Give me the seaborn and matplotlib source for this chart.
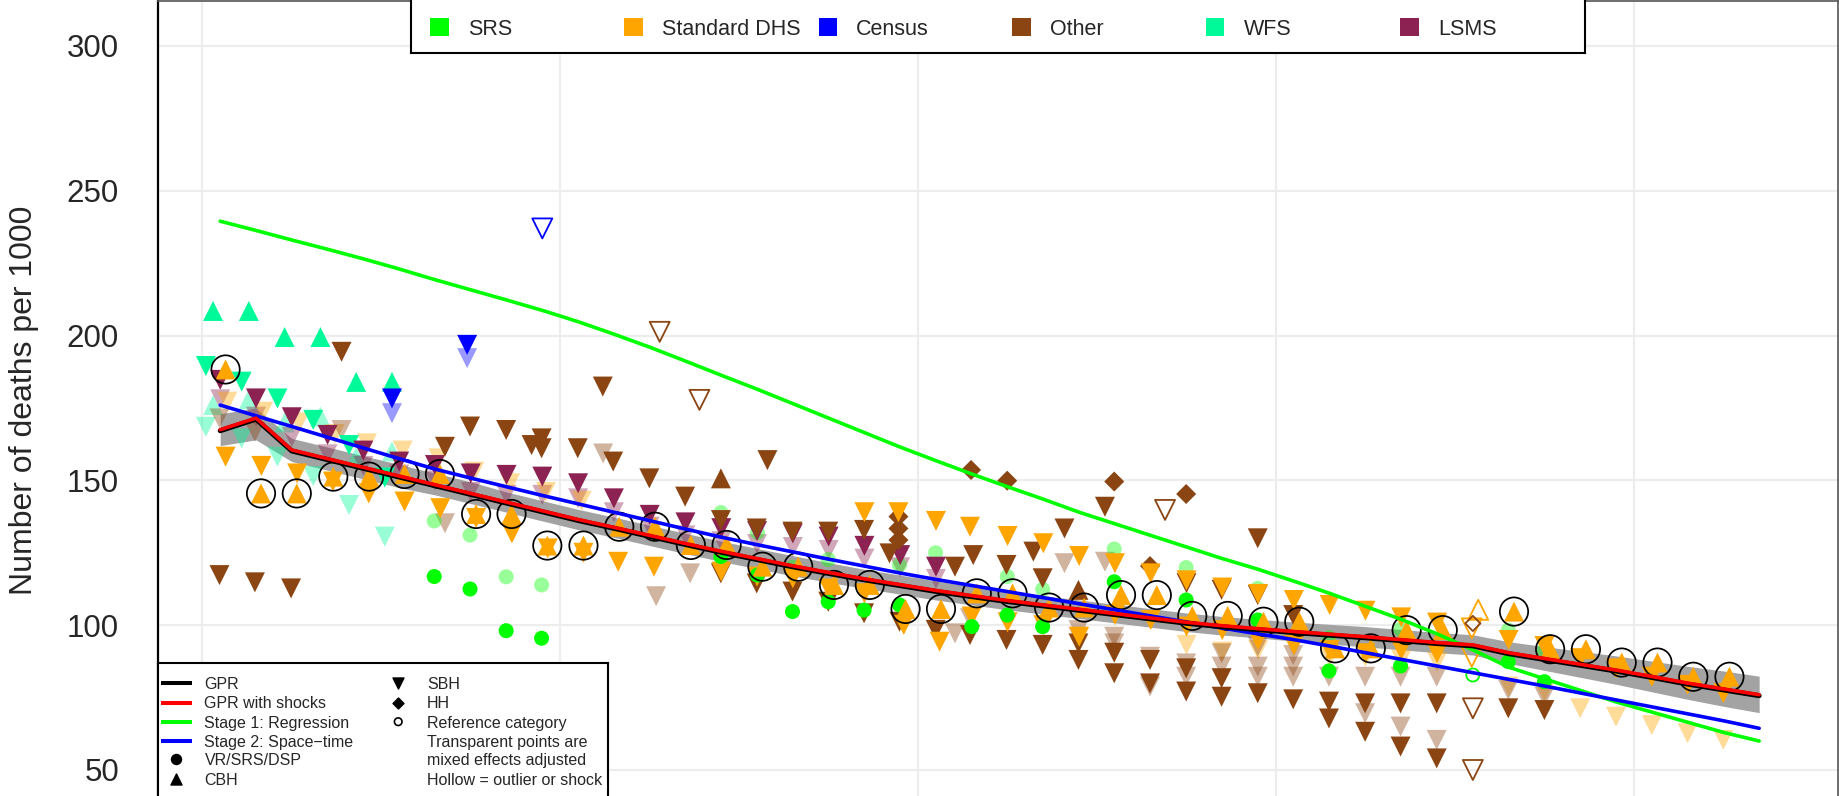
import numpy as np
import matplotlib
matplotlib.use("Agg")
import matplotlib.pyplot as plt
import matplotlib.transforms as mtrans
import seaborn as sns

# -------------------------------
# 1. Model estimates (mid-year)
# -------------------------------
est_years = np.arange(1970.5, 2014.0, 1.0)

stage1 = [239.5, 236.3, 233.0, 229.8, 226.5, 223.0, 219.3, 215.8, 212.3, 208.7,
          204.8, 200.5, 196.0, 191.2, 186.3, 181.5, 176.5, 171.5, 166.5, 161.5,
          156.8, 152.2, 147.8, 143.5, 139.0, 135.0, 131.0, 127.0, 123.0, 119.3,
          115.2, 111.0, 106.5, 102.0, 97.0, 91.5, 85.5, 81.5, 77.5, 73.5,
          70.0, 66.5, 63.0, 60.0]

stage2 = [176.0, 172.3, 168.6, 164.9, 161.2, 157.5, 153.9, 150.8, 147.8, 144.8,
          141.9, 139.0, 136.1, 133.2, 130.4, 127.8, 125.3, 122.8, 120.4, 118.0,
          115.8, 113.7, 111.6, 109.5, 107.4, 105.3, 103.2, 101.1, 99.0, 97.0,
          95.0, 92.8, 90.5, 88.2, 85.9, 83.6, 81.3, 79.0, 76.6, 74.2,
          71.8, 69.4, 67.0, 64.4]

gpr = [167.5, 171.5, 160.5, 157.5, 154.5, 151.5, 148.5, 145.5, 142.5, 139.5,
       136.5, 133.8, 131.0, 128.2, 125.5, 123.0, 120.5, 118.2, 116.0, 114.0,
       112.0, 110.2, 108.5, 107.0, 105.5, 104.0, 102.5, 101.0, 99.8, 98.8,
       97.8, 96.9, 96.0, 95.0, 94.0, 93.2, 90.5, 88.5, 86.5, 84.5,
       82.3, 80.0, 78.0, 76.0]

gpr_lo = [162.0, 164.0, 156.5, 153.5, 150.5, 147.5, 145.0, 142.0, 139.0, 136.0,
          133.0, 130.3, 127.5, 124.7, 122.0, 119.5, 117.0, 114.8, 112.7, 110.7,
          108.7, 107.0, 105.3, 103.8, 102.3, 100.8, 99.3, 97.8, 96.6, 95.6,
          94.5, 93.5, 92.5, 91.5, 90.5, 89.7, 86.8, 84.4, 82.0, 79.6,
          77.0, 74.4, 72.0, 69.8]

gpr_hi = [173.0, 175.0, 164.5, 161.5, 158.5, 155.5, 152.5, 149.5, 146.0, 143.0,
          140.0, 137.3, 134.5, 131.7, 129.0, 126.5, 124.0, 121.6, 119.3, 117.3,
          115.3, 113.4, 111.7, 110.2, 108.7, 107.2, 105.7, 104.2, 103.0, 102.0,
          101.1, 100.3, 99.5, 98.5, 97.5, 96.7, 94.3, 92.6, 91.0, 89.4,
          87.6, 85.8, 84.2, 82.4]

# -------------------------------
# 2. Data points by source / method
# -------------------------------
wfs_cbh_x = [1970.3, 1971.3, 1972.3, 1973.3, 1974.3, 1975.3]
wfs_cbh_y = [208.5, 208.5, 199.5, 199.5, 184.0, 184.0]
wfs_cbh_adj_y = [176.0, 178.0, 170.0, 172.0, 158.0, 160.0]
wfs_sbh_x = [1970.1, 1971.1, 1972.1, 1973.1, 1974.1, 1975.1]
wfs_sbh_y = [189.5, 184.1, 178.3, 170.9, 162.2, 151.0]
wfs_sbh_adj_y = [168.5, 164.5, 158.2, 151.5, 141.5, 130.6]

lsms_x = [1970.5, 1971.5, 1972.5, 1973.5, 1974.5, 1975.5, 1976.5, 1977.5, 1978.5, 1979.5,
          1980.5, 1981.5, 1982.5, 1983.5, 1984.5, 1985.5, 1986.5, 1987.5, 1988.5, 1989.5, 1990.5]
lsms_y = [184.7, 178.3, 171.8, 165.7, 160.3, 156.5, 155.3, 152.4, 151.9, 151.3,
          149.0, 143.8, 138.1, 135.5, 133.5, 132.5, 131.7, 130.6, 127.4, 124.2, 120.2]
lsms_adj_y = [178.0, 172.0, 165.0, 159.0, 155.0, 152.0, 150.0, 146.0, 145.0, 145.0,
              143.8, 139.0, 134.0, 131.0, 129.0, 128.0, 127.0, 126.0, 123.0, 120.0, 116.0]

cen_x = [1975.3, 1977.4]
cen_y = [178.3, 196.8]
cen_adj_y = [173.2, 192.2]
cen_out_x = [1979.5]
cen_out_y = [237.0]

# reference category (Standard DHS CBH, ringed)
ref_x = [1970.65, 1971.64, 1972.64, 1973.66, 1974.66, 1975.65, 1976.64, 1977.65, 1978.64, 1979.64,
         1980.65, 1981.65, 1982.65, 1983.65, 1984.65, 1985.65, 1986.65, 1987.65, 1988.65, 1989.65,
         1990.64, 1991.64, 1992.64, 1993.66, 1994.64, 1995.67, 1996.67, 1997.66, 1998.65, 1999.65,
         2000.65, 2001.65, 2002.65, 2003.65, 2004.66, 2006.65, 2007.66, 2008.66, 2009.66, 2010.66,
         2011.66, 2012.67]
ref_y = [188.3, 145.5, 145.5, 151.3, 151.3, 152.2, 152.2, 138.4, 138.4, 127.5,
         127.5, 134.0, 134.0, 127.7, 127.7, 120.2, 120.2, 113.9, 113.9, 105.6,
         105.6, 111.0, 111.0, 106.1, 106.1, 110.4, 110.4, 103.2, 103.2, 101.2,
         101.2, 92.0, 92.0, 98.3, 98.3, 104.7, 91.7, 91.7, 87.1, 87.1,
         82.2, 82.2]

dhs_sbh_a_x = [1970.65, 1971.65, 1972.65, 1973.65, 1974.65, 1975.65, 1976.65, 1977.65, 1978.65,
               1979.65, 1980.65, 1981.62, 1982.62]
dhs_sbh_a_y = [158.2, 155.0, 152.4, 149.6, 145.5, 142.7, 140.4, 137.0, 131.7,
               126.5, 125.0, 121.9, 120.2]
dhs_sbh_b_x = [1988.5, 1989.45, 1990.5, 1991.45, 1992.5, 1993.5, 1994.5, 1995.5, 1996.5,
               1997.5, 1998.5, 1999.5, 2000.5, 2001.5, 2002.5, 2003.5, 2004.5]
dhs_sbh_b_y = [139.0, 139.0, 136.0, 134.0, 130.8, 128.3, 123.9, 121.4, 117.9,
               115.5, 113.0, 110.8, 108.7, 107.0, 105.0, 102.7, 100.9]
dhs_sbh_c_x = [1984.5, 1985.5, 1986.5, 1987.5, 1988.5, 1989.6, 1990.6, 1991.5, 1992.5, 1993.5,
               1994.5, 1995.5, 1996.5, 1997.5, 1998.5, 1999.5, 2000.5, 2001.5, 2002.5, 2003.5,
               2004.5, 2006.5, 2007.5, 2008.5, 2009.5, 2010.5, 2011.5, 2012.5]
dhs_sbh_c_y = [118.5, 116.8, 116.2, 112.7, 111.0, 100.1, 94.3, 103.0, 101.0, 100.0,
               96.0, 103.5, 101.8, 99.5, 98.3, 94.9, 93.2, 91.4, 90.3, 91.4,
               90.3, 94.9, 92.8, 88.6, 85.1, 82.2, 79.4, 76.5]
dhs_adj_x = [1970.7, 1971.7, 1972.7, 1973.7, 1974.6, 1975.6, 1976.6, 1977.6, 1978.6, 1979.6,
             1980.6, 1997.5, 1998.5, 1999.5, 2000.5, 2001.5, 2002.5, 2003.5, 2004.5, 2006.5,
             2007.5, 2008.5, 2009.5, 2010.5, 2011.5, 2012.5]
dhs_adj_y = [177.2, 173.7, 170.0, 166.0, 162.8, 160.3, 157.6, 153.0, 149.0, 146.0,
             143.0, 93.2, 90.9, 91.4, 92.6, 89.1, 89.1, 88.0, 87.4, 78.8,
             77.0, 71.3, 68.4, 65.5, 62.7, 60.4]

oth_sbh_x = [1970.48, 1971.47, 1972.48, 1973.89, 1976.78, 1977.48, 1978.49, 1979.2, 1979.48, 1979.48,
             1980.49, 1981.19, 1981.48, 1982.49, 1983.49, 1985.79,
             1984.49, 1985.49, 1986.49, 1987.49, 1988.49, 1989.2, 1991.03,
             1984.49, 1985.49, 1986.49, 1987.49, 1988.49, 1989.48, 1990.49, 1991.45,
             1995.22, 1994.09, 1993.22, 1991.54, 1992.47, 1993.48, 1997.5, 1998.48,
             1992.47, 1993.48, 1994.48, 1994.48, 1995.48, 1995.48, 1996.48, 1996.48, 1997.49, 1997.49,
             1998.48, 1998.48,
             1999.49, 1999.49, 2000.48, 1999.49, 2000.48, 2001.48, 2001.48, 2002.49, 2002.49, 2003.48,
             2003.48, 2004.49, 2004.49,
             2006.49, 2007.5]
oth_sbh_y = [117.3, 114.8, 112.7, 194.4, 161.6, 168.6, 167.4, 162.2, 164.5, 161.1,
             161.1, 182.4, 156.5, 150.7, 144.4, 157.0,
             136.3, 133.4, 132.3, 132.3, 132.9, 124.8, 120.2,
             117.9, 114.4, 111.6, 108.1, 104.1, 101.2, 98.4, 96.6,
             140.9, 133.4, 125.4, 124.2, 120.8, 116.2, 114.5, 112.2,
             94.9, 93.2, 93.7, 88.0, 90.5, 83.4, 88.0, 79.9, 85.1, 77.1,
             81.7, 75.3,
             130.0, 110.4, 103.5, 76.5, 74.4, 73.6, 67.8, 73.0, 63.2, 73.0,
             58.1, 73.0, 54.0,
             71.3, 70.7]
oth_adj_x = [1970.48, 1971.47, 1973.89, 1976.78, 1981.2, 1982.68, 1983.63, 1991.03, 1991.45, 1994.09,
             1995.22, 1994.48, 1994.48, 1995.48, 1995.48, 1996.48, 1996.48, 1997.49, 1997.49, 1998.48,
             1998.48, 1999.49, 1999.49, 1999.49, 2000.48, 2000.48, 2000.48, 2001.48, 2002.49, 2002.49,
             2003.48, 2003.48, 2004.49, 2004.49, 2006.49, 2007.5]
oth_adj_y = [171.4, 166.8, 167.4, 135.2, 159.3, 110.0, 117.9, 97.2, 102.4, 121.4,
             121.9, 98.3, 96.0, 96.0, 93.7, 89.1, 78.8, 86.8, 82.2, 90.3,
             85.7, 92.6, 85.7, 82.2, 89.7, 85.7, 82.2, 82.2, 82.2, 69.6,
             82.2, 65.0, 82.2, 60.4, 77.6, 75.3]
oth_hh_x = [1989.45, 1989.45, 1989.45, 1991.48, 1992.49, 1995.48, 1996.48, 1997.49]
oth_hh_y = [137.5, 133.4, 129.4, 153.6, 149.9, 149.6, 120.4, 145.3]
oth_cbh_x = [1984.49, 1994.48]
oth_cbh_y = [150.7, 112.2]

srs_x = [1976.48, 1977.48, 1978.49, 1979.48, 1984.49, 1985.51, 1986.49, 1987.49, 1988.49, 1989.48,
         1991.5, 1992.49, 1993.48, 1995.48, 1997.49, 1999.49, 2001.48, 2003.48, 2006.49, 2007.5]
srs_y = [116.8, 112.5, 98.1, 95.5, 123.7, 117.3, 104.7, 108.1, 105.2, 107.0,
         99.5, 103.5, 99.5, 115.0, 108.7, 101.8, 84.2, 85.9, 87.4, 80.5]
srs_adj_x = [1976.48, 1977.48, 1978.49, 1979.48, 1984.49, 1985.51, 1986.49, 1987.49, 1989.48, 1990.49,
             1992.49, 1993.48, 1995.48, 1997.49, 1999.49, 2001.48, 2003.48, 2006.49, 2007.5]
srs_adj_y = [136.0, 131.1, 116.7, 113.9, 138.9, 132.0, 120.0, 122.7, 120.8, 125.0,
             116.8, 112.4, 126.3, 119.9, 112.7, 95.7, 98.6, 98.3, 91.4]

# outliers / shocks (hollow)
out_oth_x = [1982.78, 1983.89, 1996.9, 2005.5, 2005.5]
out_oth_y = [201.3, 177.8, 139.8, 71.3, 50.0]
out_dhs_sbh_x = [2005.47, 2005.47]
out_dhs_sbh_y = [98.9, 89.1]
out_dhs_cbh_x = [2005.65]
out_dhs_cbh_y = [105.3]
out_hh_x = [2005.5]
out_hh_y = [100.6]
out_srs_x = [2005.5]
out_srs_y = [82.8]

src_names = ["SRS", "Standard DHS", "Census", "Other", "WFS", "LSMS"]
src_cols = ["#00FF00", "#FFA500", "#0000FF", "#8B4513", "#00FA9A", "#8B2252"]
C = dict(zip(src_names, src_cols))

y_ticks = [50, 100, 150, 200, 250, 300]
x_grid = [1970, 1980, 1990, 2000, 2010]

# -------------------------------
# 3. Plot
# -------------------------------
sns.set_style("white")
plt.rcParams["font.family"] = ["Liberation Sans", "DejaVu Sans"]

fig = plt.figure(figsize=(18.39, 7.96), dpi=100)
ax = fig.add_axes([158 / 1839, 0, 1680.5 / 1839, 795.5 / 796])

TRI, DOT, DIA, RING = 207, 117, 104, 416
FADE = 0.4


def pts(x, y, color, marker, size, alpha=1.0, hollow=False, z=3):
    if hollow:
        sns.scatterplot(x=x, y=y, ax=ax, marker=marker, s=size, color=color,
                        facecolor="none", edgecolor=color, linewidth=1.3, zorder=z)
    else:
        sns.scatterplot(x=x, y=y, ax=ax, marker=marker, s=size, color=color,
                        alpha=alpha, edgecolor="none", linewidth=0, zorder=z)


ax.fill_between(est_years, gpr_lo, gpr_hi, color="#A3A3A3", linewidth=0, zorder=1.5)

# adjusted (transparent) points first
pts(wfs_sbh_x, wfs_sbh_adj_y, C["WFS"], "v", TRI, FADE)
pts(wfs_cbh_x, wfs_cbh_adj_y, C["WFS"], "^", TRI, FADE)
pts(lsms_x, lsms_adj_y, C["LSMS"], "v", TRI, FADE)
pts(cen_x, cen_adj_y, C["Census"], "v", TRI, FADE)
pts(dhs_adj_x, dhs_adj_y, C["Standard DHS"], "v", TRI, FADE)
pts(oth_adj_x, oth_adj_y, C["Other"], "v", TRI, FADE)
pts(srs_adj_x, srs_adj_y, C["SRS"], "o", DOT, FADE)

# raw points
pts(wfs_sbh_x, wfs_sbh_y, C["WFS"], "v", TRI)
pts(wfs_cbh_x, wfs_cbh_y, C["WFS"], "^", TRI)
pts(lsms_x, lsms_y, C["LSMS"], "v", TRI)
pts(cen_x, cen_y, C["Census"], "v", TRI)
pts(oth_sbh_x, oth_sbh_y, C["Other"], "v", TRI)
pts(oth_hh_x, oth_hh_y, C["Other"], "D", DIA)
pts(oth_cbh_x, oth_cbh_y, C["Other"], "^", TRI)
pts(dhs_sbh_a_x, dhs_sbh_a_y, C["Standard DHS"], "v", TRI)
pts(dhs_sbh_b_x, dhs_sbh_b_y, C["Standard DHS"], "v", TRI)
pts(dhs_sbh_c_x, dhs_sbh_c_y, C["Standard DHS"], "v", TRI)
pts(srs_x, srs_y, C["SRS"], "o", DOT)
pts(ref_x, ref_y, C["Standard DHS"], "^", TRI)

# outliers
pts(cen_out_x, cen_out_y, C["Census"], "v", TRI, hollow=True)
pts(out_oth_x, out_oth_y, C["Other"], "v", TRI, hollow=True)
pts(out_dhs_sbh_x, out_dhs_sbh_y, C["Standard DHS"], "v", TRI, hollow=True)
pts(out_dhs_cbh_x, out_dhs_cbh_y, C["Standard DHS"], "^", TRI, hollow=True)
pts(out_hh_x, out_hh_y, C["Other"], "D", 60, hollow=True)
pts(out_srs_x, out_srs_y, C["SRS"], "o", 88, hollow=True)

# rings around the reference category
sns.scatterplot(x=ref_x, y=ref_y, ax=ax, marker="o", s=RING, color="black",
                facecolor="none", edgecolor="black", linewidth=1.25, zorder=4)

# model lines
sns.lineplot(x=est_years, y=stage1, ax=ax, color="#00FF00", linewidth=2.6, zorder=5)
sns.lineplot(x=est_years, y=stage2, ax=ax, color="#0000FF", linewidth=2.6, zorder=5)
shift = mtrans.offset_copy(ax.transData, fig=fig, x=0, y=-1.0, units="dots")
sns.lineplot(x=est_years, y=gpr, ax=ax, color="black", linewidth=3.6, zorder=6,
             transform=shift)
sns.lineplot(x=est_years, y=gpr, ax=ax, color="#FF0000", linewidth=2.6, zorder=7)

ax.set_xlim(1968.762, 2015.717)
ax.set_ylim(41.02, 315.7)
ax.set_yticks(y_ticks)
ax.set_yticklabels([str(v) for v in y_ticks], fontsize=22.5)
ax.set_xticks(x_grid)
ax.tick_params(axis="y", length=0, pad=28)
ax.tick_params(axis="x", length=0, labelbottom=False)
ax.grid(True, color="#EDEDED", linewidth=1.6)
ax.set_axisbelow(True)
ax.set_xlabel("")
ax.set_ylabel("Number of deaths per 1000", fontsize=23)
ax.yaxis.set_label_coords((24 - 158) / 1680.5, 0.498)
ax.yaxis.label.set_va("center")

ax.spines["left"].set_color("black")
ax.spines["left"].set_linewidth(1.6)
for side in ["top", "right"]:
    ax.spines[side].set_color("#555555")
    ax.spines[side].set_linewidth(1.2)
ax.spines["bottom"].set_visible(False)

# -------------------------------
# 4. Source legend (top)
# -------------------------------
lg = fig.add_axes([411 / 1839, 1 - 52.7 / 796, 1174 / 1839, 54 / 796])
lg.set_xlim(0, 1)
lg.set_ylim(0, 1)
lg.set_xticks([])
lg.set_yticks([])
lg.set_facecolor("white")
for sp in lg.spines.values():
    sp.set_color("black")
    sp.set_linewidth(1.5)
sq_x = [0.0242, 0.1895, 0.3550, 0.5200, 0.6851, 0.8505]
for xx, nm, cc in zip(sq_x, src_names, src_cols):
    lg.scatter([xx], [0.48], marker="s", s=175, color=cc, edgecolor="none")
    lg.text(xx + 0.0243, 0.328, nm, fontsize=15.5, va="baseline", ha="left")

# -------------------------------
# 5. Method legend (bottom left)
# -------------------------------
lb = fig.add_axes([158 / 1839, 0, 450 / 1839, 132.7 / 796])
lb.set_xlim(0, 1)
lb.set_ylim(0, 1)
lb.set_xticks([])
lb.set_yticks([])
lb.set_facecolor("white")
for sp in lb.spines.values():
    sp.set_color("black")
    sp.set_linewidth(1.5)
lb.spines["bottom"].set_visible(False)

row_mid = [0.8493, 0.7031, 0.5599, 0.4167, 0.2765, 0.1258]
row_base = [0.8057, 0.6594, 0.5162, 0.3730, 0.2328, 0.0821]
line_items = [("GPR", "black"), ("GPR with shocks", "#FF0000"),
              ("Stage 1: Regression", "#00FF00"), ("Stage 2: Space\u2212time", "#0000FF")]
for i, (nm, cc) in enumerate(line_items):
    lb.plot([0.006, 0.0756], [row_mid[i], row_mid[i]], color=cc, linewidth=2.9,
            solid_capstyle="butt")
    lb.text(0.1033, row_base[i], nm, fontsize=11.5, va="baseline")
lb.scatter([0.0407], [row_mid[4]], marker="o", s=52, color="black")
lb.text(0.1033, row_base[4], "VR/SRS/DSP", fontsize=11.5, va="baseline")
lb.scatter([0.0407], [row_mid[5]], marker="^", s=63, color="black")
lb.text(0.1033, row_base[5], "CBH", fontsize=11.5, va="baseline")

lb.scatter([0.5338], [row_mid[0]], marker="v", s=63, color="black")
lb.scatter([0.5338], [row_mid[1]], marker="D", s=31, color="black")
lb.scatter([0.5338], [row_mid[2]], marker="o", s=30, facecolor="none",
           edgecolor="black", linewidth=1.2)
col2_text = ["SBH", "HH", "Reference category", "Transparent points are",
             "mixed effects adjusted", "Hollow = outlier or shock"]
for i, t in enumerate(col2_text):
    lb.text(0.5982, row_base[i], t, fontsize=11.5, va="baseline")

fig.savefig("out.png", dpi=100)
